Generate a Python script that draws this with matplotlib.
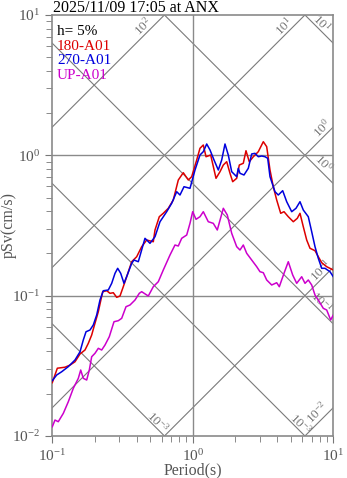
import numpy as np
import matplotlib
matplotlib.use("Agg")
import matplotlib.pyplot as plt
from matplotlib.ticker import LogLocator, NullFormatter

plt.rcParams["font.family"] = ["Liberation Serif", "DejaVu Serif"]
plt.rcParams["mathtext.fontset"] = "custom"
plt.rcParams["mathtext.rm"] = "Liberation Serif"
plt.rcParams["mathtext.it"] = "Liberation Serif:italic"

# Pseudo-velocity response spectra, h=5%
period_180 = [0.100, 0.1086, 0.1231, 0.1337, 0.1451, 0.1575, 0.1709, 0.1804, 0.1907, 0.1981,
              0.2126, 0.2284, 0.2439, 0.2575, 0.2718, 0.2873, 0.3033, 0.3201, 0.3385, 0.3674,
              0.3988, 0.4328, 0.4697, 0.5235, 0.5383, 0.5776, 0.6166, 0.6694, 0.7263, 0.7886,
              0.8556, 0.9290, 0.982, 1.066, 1.125, 1.188, 1.242, 1.341, 1.463, 1.562,
              1.649, 1.743, 1.840, 1.923, 2.053, 2.143, 2.288, 2.391, 2.524, 2.696,
              2.926, 3.176, 3.357, 3.544, 3.741, 3.955, 4.223, 4.458, 4.783, 5.192,
              5.544, 5.794, 6.116, 6.467, 6.827, 7.410, 7.822, 8.271, 8.974, 10.0]
psv_180 = [0.0240, 0.0304, 0.0309, 0.0320, 0.0338, 0.0384, 0.0410, 0.0457, 0.0524, 0.0601,
           0.0768, 0.1067, 0.1084, 0.1039, 0.1049, 0.0973, 0.0994, 0.1158, 0.1364, 0.1745,
           0.1894, 0.2233, 0.2491, 0.2422, 0.2936, 0.3651, 0.3861, 0.4192, 0.4803, 0.6668,
           0.7516, 0.6668, 0.7039, 0.9259, 1.122, 1.184, 0.977, 1.005, 0.6856, 0.7641,
           0.8530, 0.9003, 0.7443, 0.6485, 0.6856, 0.853, 0.877, 1.078, 0.900, 0.977,
           1.061, 1.250, 1.152, 0.7857, 0.5973, 0.4803, 0.3861, 0.3964, 0.3651, 0.3363,
           0.3556, 0.3861, 0.3099, 0.2491, 0.2175, 0.2091, 0.1894, 0.1717, 0.1608, 0.1523]

period_270 = [0.100, 0.1075, 0.1167, 0.1300, 0.1451, 0.1575, 0.1662, 0.1738, 0.1855, 0.1958,
              0.2070, 0.2185, 0.2307, 0.2504, 0.2647, 0.2795, 0.2920, 0.3068, 0.3238, 0.3418,
              0.3674, 0.3815, 0.4094, 0.4568, 0.4958, 0.5383, 0.5842, 0.6520, 0.7077, 0.7682,
              0.8107, 0.8658, 0.9552, 1.037, 1.125, 1.188, 1.256, 1.326, 1.416, 1.519,
              1.606, 1.695, 1.789, 1.892, 2.053, 2.108, 2.167, 2.314, 2.483, 2.626,
              2.771, 2.926, 3.094, 3.265, 3.413, 3.544, 3.846, 4.059, 4.364, 4.660,
              5.058, 5.427, 5.794, 6.116, 6.638, 7.019, 7.410, 7.822, 8.271, 8.729,
              9.474, 10.0]
psv_270 = [0.0248, 0.0272, 0.0287, 0.0312, 0.0348, 0.0398, 0.0483, 0.0553, 0.0569, 0.0618,
           0.0728, 0.0931, 0.1084, 0.1097, 0.1224, 0.1442, 0.1566, 0.1442, 0.1224, 0.1403,
           0.1699, 0.1794, 0.1745, 0.2562, 0.2360, 0.2630, 0.3363, 0.3964, 0.4550, 0.5503,
           0.5213, 0.5973, 0.5818, 0.7857, 1.005, 1.061, 1.204, 1.091, 0.9259, 0.7857,
           0.9259, 1.204, 1.005, 0.7641, 0.7039, 0.8079, 0.7443, 0.7239, 0.8079, 1.022,
           1.033, 0.977, 0.9886, 0.977, 0.952, 0.7039, 0.5503, 0.5213, 0.5595, 0.4670,
           0.3964, 0.4192, 0.4670, 0.4075, 0.3651, 0.2855, 0.2233, 0.1845, 0.1566, 0.1566,
           0.1481, 0.1364]

period_up = [0.100, 0.1045, 0.1103, 0.1198, 0.1300, 0.1411, 0.1532, 0.1593, 0.1662, 0.1757,
             0.1834, 0.1907, 0.2013, 0.2126, 0.2247, 0.2372, 0.2545, 0.2749, 0.2950, 0.3119,
             0.3347, 0.3573, 0.3879, 0.4161, 0.4328, 0.4822, 0.5235, 0.5682, 0.6166, 0.6883,
             0.7468, 0.7886, 0.8337, 0.9050, 0.9552, 0.998, 1.054, 1.125, 1.188, 1.289,
             1.399, 1.494, 1.649, 1.760, 1.892, 2.053, 2.167, 2.288, 2.419, 2.626,
             2.850, 3.008, 3.176, 3.357, 3.644, 3.955, 4.128, 4.458, 4.783, 5.141,
             5.489, 5.958, 6.289, 6.638, 7.019, 7.410, 7.952, 8.489, 8.974, 9.584,
             10.0]
psv_up = [0.01164, 0.01299, 0.01264, 0.01450, 0.01754, 0.02186, 0.02576, 0.02951, 0.02576, 0.02505,
          0.02951, 0.03671, 0.03882, 0.04214, 0.04099, 0.04448, 0.05097, 0.06520, 0.06628, 0.06895,
          0.08341, 0.08576, 0.09308, 0.1039, 0.1067, 0.0994, 0.1158, 0.1257, 0.1523, 0.1948,
          0.2295, 0.2258, 0.2562, 0.2704, 0.3276, 0.3964, 0.3499, 0.3651, 0.3964, 0.3363,
          0.3276, 0.2936, 0.4192, 0.3755, 0.2780, 0.2233, 0.2114, 0.2295, 0.2003, 0.1794,
          0.1608, 0.1481, 0.1457, 0.1293, 0.1191, 0.1236, 0.1158, 0.1442, 0.1745, 0.1403,
          0.1224, 0.1364, 0.1224, 0.1293, 0.1191, 0.1010, 0.0905, 0.0812, 0.0790, 0.0671,
          0.0728]

# tripartite grid: acceleration (cm/s^2) and displacement (cm)
accel_levels = [0.01, 0.1, 1, 10, 100, 1000]
disp_levels = [0.001, 0.01, 0.1, 1, 10]

fig = plt.figure(figsize=(3.47, 4.78), dpi=100)
ax = fig.add_axes([0.1507, 0.0879, 0.8098, 0.8808])
ax.set_xscale("log")
ax.set_yscale("log")
ax.set_xlim(0.1, 10)
ax.set_ylim(0.01, 10)

grid_col = "#8a8a8a"
t_line = np.array([0.01, 100.0])
for a in accel_levels:
    ax.plot(t_line, a * t_line / (2 * np.pi), color="#7a7a7a", lw=0.8, zorder=1)
for d in disp_levels:
    ax.plot(t_line, 2 * np.pi * d / t_line, color="#7a7a7a", lw=0.8, zorder=1)

ax.axhline(1, color=grid_col, lw=1.0, zorder=1)
ax.axhline(0.1, color=grid_col, lw=1.0, zorder=1)
ax.axvline(1, color=grid_col, lw=1.0, zorder=1)

ax.plot(period_up, psv_up, color="#cc00cc", lw=1.1, zorder=3)
ax.plot(period_180, psv_180, color="#dd0000", lw=1.1, zorder=4)
ax.plot(period_270, psv_270, color="#0000dd", lw=1.1, zorder=5)

# labels on the diagonal lines: (level, period on line, text, offset in points)
lab_kw = dict(textcoords="offset points", fontsize=9.5, color="#777777",
              rotation_mode="anchor", ha="center", va="center", zorder=2,
              annotation_clip=False)
accel_labels = [(100, 0.48, "10$^{2}$", 5.3), (10, 4.8, "10$^{1}$", 4.6),
                (1, 9.0, "10$^{0}$", 5.2), (0.1, 8.8, "10$^{-1}$", 4.2),
                (0.01, 8.4, "10$^{-2}$", 6.0)]
disp_labels = [(10, 7.7, "10$^{1}$", 4.6), (1, 7.8, "10$^{0}$", 5.3),
               (0.1, 7.6, "10$^{-1}$", 5.0), (0.01, 5.5, "10$^{-3}$", 3.4),
               (0.001, 0.53, "10$^{-3}$", 3.2)]
for a, t, txt, off in accel_labels:
    ax.annotate(txt, (t, a * t / (2 * np.pi)), xytext=(-off / np.sqrt(2), off / np.sqrt(2)),
                rotation=45, **lab_kw)
for d, t, txt, off in disp_labels:
    ax.annotate(txt, (t, 2 * np.pi * d / t), xytext=(off / np.sqrt(2), off / np.sqrt(2)),
                rotation=-45, **lab_kw)

leg_kw = dict(transform=ax.transAxes, fontsize=11, va="center", ha="left")
ax.text(0.017, 0.961, "h= 5%", color="black", **leg_kw)
ax.text(0.017, 0.926, "180-A01", color="#dd0000", **leg_kw)
ax.text(0.017, 0.891, "270-A01", color="#0000dd", **leg_kw)
ax.text(0.017, 0.857, "UP-A01", color="#cc00cc", **leg_kw)

fig.text(0.152, 0.975, "2025/11/09 17:05 at ANX", fontsize=11.5, color="black", va="baseline")

ax.set_xticks([0.1, 1, 10])
ax.set_xticklabels(["10$^{-1}$", "10$^{0}$", "10$^{1}$"])
ax.set_yticks([0.01, 0.1, 1, 10])
ax.set_yticklabels(["10$^{-2}$", "10$^{-1}$", "10$^{0}$", "10$^{1}$"])
ax.xaxis.set_minor_locator(LogLocator(base=10, subs=np.arange(2, 10)))
ax.yaxis.set_minor_locator(LogLocator(base=10, subs=np.arange(2, 10)))
ax.xaxis.set_minor_formatter(NullFormatter())
ax.yaxis.set_minor_formatter(NullFormatter())
ax.tick_params(which="both", direction="out", color="#777777", labelcolor="#555555",
               top=False, right=False, labelsize=11)
ax.tick_params(which="major", length=5)
ax.tick_params(which="minor", length=4)

for s in ax.spines.values():
    s.set_color(grid_col)
    s.set_linewidth(1.2)

ax.set_xlabel("Period(s)", fontsize=11.5, color="#555555", labelpad=-1)
ax.set_ylabel("pSv(cm/s)", fontsize=11.5, color="#555555", va="center")
ax.yaxis.set_label_coords(-0.155, 0.5)

fig.savefig("out.png", dpi=100)
